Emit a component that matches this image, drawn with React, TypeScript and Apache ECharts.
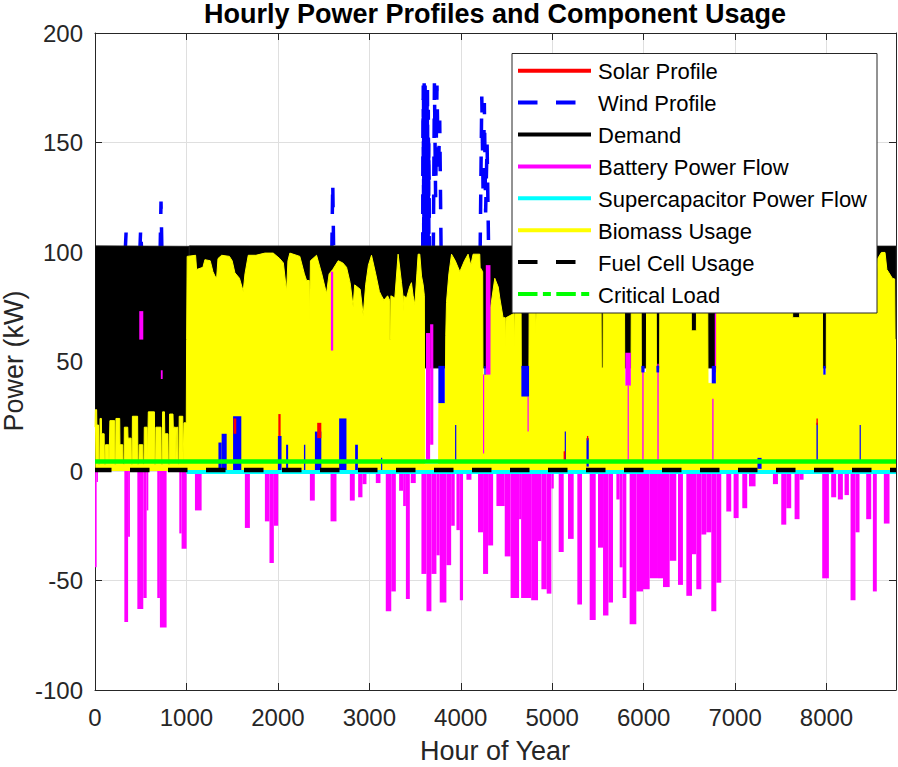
import React, { useEffect, useRef } from "react";
import * as echarts from "echarts";

const FONT = '"Liberation Sans", Arial, Helvetica, sans-serif';
const AXIS_COLOR = "#262626";

// ---- axis settings (values) ----
const hourMax = 8760;
const powerMin = -100;
const powerMax = 200;

// ---- Demand band (dense hourly line shows as a filled band) ----
const demandHours = [0, 1030, 1034, 8760];
const demandLow = [1, 1, 47, 47];
const demandHigh = [102.8, 102.6, 102.8, 102.7];

// ---- Biomass usage upper envelope [hour, kW] ----
const biomass = [
  [0, 20], [4, 28], [18, 28], [20, 21], [38, 21], [41, 3], [52, 3], [55, 24], [70, 24], [72, 17],
  [100, 17], [103, 3], [112, 3], [115, 12], [150, 12], [153, 3], [160, 3], [163, 23], [215, 23],
  [218, 3], [226, 3], [229, 24], [270, 24], [273, 12], [303, 12], [306, 3], [318, 3], [321, 20],
  [358, 20], [361, 15], [395, 15], [398, 3], [406, 3], [409, 25], [466, 25], [469, 3], [480, 3],
  [483, 12], [522, 12], [525, 3], [536, 3], [539, 20], [570, 20], [573, 3], [580, 3], [583, 27],
  [650, 27], [653, 3], [663, 3], [666, 20], [722, 20], [725, 3], [736, 3], [739, 27], [760, 27],
  [763, 17], [798, 17], [801, 3], [812, 3], [815, 26], [853, 26], [856, 20], [880, 20], [883, 3],
  [889, 3], [892, 20], [905, 20], [908, 3], [918, 3], [921, 25], [960, 25], [963, 3], [970, 3],
  [973, 22], [998, 22],
  [1002, 60], [1008, 98], [1100, 98.5], [1111, 92], [1180, 93], [1202, 96.5], [1260, 96], [1290, 91],
  [1312, 89], [1330, 88], [1345, 97], [1385, 98.5], [1470, 98], [1500, 96], [1530, 90.5], [1580, 88],
  [1621, 82], [1640, 90], [1676, 98.5], [1760, 98.5], [1858, 99.5], [1949, 99.5], [2020, 97],
  [2060, 95], [2095, 82], [2110, 96], [2131, 99.5], [2240, 98], [2290, 90], [2314, 87], [2343, 87],
  [2347, 69], [2352, 69], [2356, 96], [2423, 98.5], [2480, 90], [2532, 81], [2560, 90], [2600, 92],
  [2660, 96], [2710, 95], [2751, 93], [2790, 86], [2823, 75], [2840, 85], [2900, 83], [2933, 71],
  [2960, 85], [2990, 94], [3024, 98.5], [3070, 90], [3110, 82], [3133, 80], [3160, 78], [3200, 80],
  [3222, 78], [3224, 60], [3232, 60], [3236, 80], [3279, 79], [3315, 99], [3352, 86], [3368, 80],
  [3370, 73], [3378, 80], [3407, 79], [3440, 84], [3461, 86], [3479, 80], [3498, 76], [3520, 90],
  [3534, 99], [3552, 99], [3571, 89], [3589, 85], [3602, 80], [3606, 3], [3758, 3], [3761, 31],
  [3830, 31], [3836, 62], [3844, 77], [3870, 90], [3899, 99], [3940, 96], [3990, 91], [4040, 96],
  [4080, 99], [4110, 94], [4135, 99], [4208, 99], [4212, 93], [4240, 91], [4243, 44], [4325, 44],
  [4328, 75], [4372, 88], [4410, 84], [4427, 79], [4463, 70], [4486, 70], [4489, 57], [4493, 57],
  [4496, 70], [4584, 72], [4587, 57], [4591, 57], [4594, 72], [4660, 72], [4663, 34], [4745, 34],
  [4748, 74], [4815, 74], [4818, 63], [4824, 63], [4827, 74], [4846, 80], [4900, 92], [5290, 92],
  [5300, 71], [5306, 92], [5533, 92], [5538, 47], [5556, 47], [5560, 92], [5790, 92], [5794, 39],
  [5862, 39], [5866, 92], [5972, 92], [5975, 45], [6030, 45], [6033, 92], [6137, 92], [6140, 45],
  [6175, 45], [6178, 92], [6519, 92], [6522, 64], [6577, 64], [6580, 92], [6700, 92], [6704, 40],
  [6794, 40], [6797, 92], [7627, 92], [7630, 70], [7706, 70], [7709, 92], [7955, 92], [7958, 44],
  [7997, 44], [8000, 92], [8540, 90], [8547, 80], [8560, 97], [8600, 99.8], [8640, 99.8],
  [8660, 92], [8680, 90.7], [8720, 88], [8745, 87.7], [8750, 60], [8760, 60],
];

// ---- Battery power flow: [startHour, endHour, kW] (negative = charging) ----
const batteryFlow = [
  [0, 18, -44], [18, 32, -5], [321, 362, -69], [362, 382, -30], [463, 528, -63], [528, 565, -58],
  [565, 583, -18], [681, 710, -58], [710, 783, -71.5], [922, 947, -28.5], [947, 1002, -35.5],
  [1093, 1166, -18], [1639, 1694, -26], [1858, 1908, -23], [1908, 1956, -42], [1956, 2004, -25],
  [2350, 2404, -13.5], [2576, 2641, -23], [2787, 2841, -13.5], [2878, 2925, -12], [2925, 2969, -6],
  [3071, 3122, -5.5], [3180, 3240, -64], [3240, 3290, -55], [3326, 3370, -9], [3370, 3400, -16],
  [3400, 3443, -58.5], [3453, 3508, -5.5], [3570, 3625, -47], [3625, 3679, -64], [3679, 3734, -47],
  [3734, 3770, -38.5], [3770, 3843, -60], [3843, 3895, -43], [3895, 3934, -25], [3953, 3990, -27],
  [3990, 4025, -59], [4062, 4117, -4], [4189, 4244, -28], [4244, 4299, -47], [4299, 4354, -34],
  [4390, 4481, -16], [4481, 4545, -39], [4545, 4638, -58], [4638, 4660, -22], [4660, 4770, -58],
  [4770, 4845, -59], [4845, 4882, -32], [4882, 4940, -54], [4940, 4991, -56], [4991, 5017, -8],
  [5071, 5126, -37], [5173, 5235, -31], [5275, 5326, -61], [5410, 5476, -68], [5501, 5556, -35],
  [5556, 5615, -66], [5615, 5665, -60], [5702, 5738, -13], [5738, 5770, -44], [5770, 5811, -58],
  [5847, 5920, -70], [5920, 5993, -55], [5993, 6066, -54], [6066, 6157, -49], [6157, 6212, -49],
  [6212, 6285, -53], [6285, 6357, -41], [6376, 6430, -52], [6467, 6529, -57], [6529, 6576, -38],
  [6576, 6631, -54], [6631, 6685, -29], [6685, 6740, -28], [6740, 6795, -64], [6795, 6849, -51],
  [6904, 6958, -18.5], [6984, 7039, -21.5], [7079, 7133, -17], [7152, 7224, -7], [7414, 7469, -6],
  [7505, 7560, -24.5], [7560, 7614, -17], [7651, 7705, -22], [7705, 7749, -4], [7953, 8026, -49],
  [8051, 8106, -12], [8124, 8179, -13], [8197, 8245, -11], [8263, 8317, -59], [8317, 8361, -28],
  [8434, 8489, -22], [8507, 8550, -55], [8627, 8689, -24],
];

// ---- Battery discharge segments visible above the other layers: [h0, h1, lowKW, highKW] ----
const batteryUp = [
  [484, 528, 60, 73], [720, 740, 42, 46], [2580, 2605, 55, 91], [3620, 3665, 5, 63],
  [3665, 3700, 12, 67], [4274, 4325, 44, 94], [4243, 4250, 8, 44], [4730, 4740, 18, 34],
  [5800, 5860, 39, 54], [5825, 5838, 5, 39], [5985, 6000, 5, 46], [6150, 6165, 5, 49],
  [6750, 6765, 5, 33], [6778, 6792, 45, 73],
];

// ---- Wind profile: bursts above demand [hour, kW] ----
const windSpikes = [
  [[330, 100], [340, 109], [350, 100]],
  [[490, 100], [500, 111], [510, 100]],
  [[712, 100], [722, 123], [732, 100]],
  [[2590, 100], [2600, 132], [2610, 100]],
  [[3585, 100], [3590, 176], [3595, 110], [3600, 177], [3605, 105], [3610, 176], [3615, 112],
   [3620, 175], [3625, 105], [3632, 170], [3638, 108], [3645, 165], [3652, 100]],
  [[3588, 100], [3593, 170], [3598, 104], [3603, 176], [3608, 118], [3613, 172], [3618, 104],
   [3624, 168], [3630, 110], [3636, 174], [3642, 106], [3650, 150], [3658, 100]],
  [[3586, 100], [3591, 160], [3597, 101], [3602, 166], [3607, 101], [3612, 163], [3617, 101],
   [3622, 160], [3628, 101], [3634, 158], [3640, 101], [3647, 140], [3655, 100]],
  [[3700, 100], [3712, 177], [3725, 125], [3740, 176], [3755, 135], [3770, 160], [3785, 100]],
  [[4212, 100], [4230, 171], [4245, 125], [4258, 168], [4272, 118], [4288, 150], [4305, 100]],
];
// wind visible through gaps in biomass: [h0, h1, lowKW, highKW]
const windLow = [
  [1350, 1385, 0, 13], [1385, 1440, 0, 17], [1510, 1600, 0, 25], [2000, 2040, 0, 16],
  [2090, 2112, 0, 12], [2285, 2300, 0, 12], [2405, 2475, 0, 18], [2670, 2750, 0, 24],
  [2845, 2875, 0, 12], [3128, 3138, 0, 6], [3755, 3825, 31, 48], [3938, 3948, 5, 21],
  [4258, 4272, 44, 48], [4663, 4747, 34, 48], [5137, 5150, 4, 18], [5375, 5400, 2, 15],
  [5975, 6010, 45, 48], [6140, 6170, 45, 48], [6745, 6790, 40, 48], [7245, 7290, 1, 6],
  [7890, 7905, 5, 22], [7965, 7990, 44, 48], [8362, 8375, 5, 21],
];
// solar visible through gaps: [h0, h1, lowKW, highKW]
const solarBits = [
  [1515, 1545, 17, 24], [2005, 2030, 16, 26], [2430, 2475, 15, 22], [5125, 5145, 5, 9],
  [5380, 5395, 14, 16], [7890, 7905, 21, 24],
];

const supercap = [[1000, -0.4], [8760, -0.4]];
const fuelCell = [[0, 0.4], [8760, 0.4]];
const criticalLoad = [[0, 4.3], [8760, 4.3]];

const legendNames = [
  "Solar Profile", "Wind Profile", "Demand", "Battery Power Flow",
  "Supercapacitor Power Flow", "Biomass Usage", "Fuel Cell Usage", "Critical Load",
];
const legendColors = ["#ff0000", "#0000ff", "#000000", "#ff00ff", "#00ffff", "#ffff00", "#000000", "#00ff00"];
const legendDash = [null, [19.5, 18.5], null, null, null, null, [19.5, 18.5], [19.5, 5.4, 8, 5.4]];

function rectSeries(name: string, rows: number[][], color: string, z: number) {
  return {
    type: "custom",
    name,
    z,
    clip: true,
    data: rows,
    encode: { x: [0, 1], y: [2, 3] },
    renderItem: (params: any, api: any) => {
      const a = api.coord([api.value(0), api.value(3)]);
      const b = api.coord([api.value(1), api.value(2)]);
      return {
        type: "rect",
        shape: { x: a[0], y: a[1], width: Math.max(b[0] - a[0], 1.2), height: b[1] - a[1] },
        style: { fill: color },
      };
    },
  };
}

function buildOption() {
  const series: any[] = [];
  windSpikes.forEach((pts) => {
    series.push({
      type: "line",
      name: "Wind Profile",
      z: 2,
      data: pts,
      showSymbol: false,
      lineStyle: { color: "#0000ff", width: 3.5, type: [19.5, 18.5] },
    });
  });
  series.push({
    type: "custom",
    name: "Demand",
    z: 3,
    clip: true,
    data: demandHours.map((h, i) => [h, demandLow[i], demandHigh[i]]),
    encode: { x: 0, y: [1, 2] },
    renderItem: (params: any, api: any) => {
      const i = params.dataIndex;
      if (i >= demandHours.length - 1) return null;
      const pts = [
        api.coord([demandHours[i], demandLow[i]]),
        api.coord([demandHours[i], demandHigh[i]]),
        api.coord([demandHours[i + 1], demandHigh[i + 1]]),
        api.coord([demandHours[i + 1], demandLow[i + 1]]),
      ];
      return { type: "polygon", shape: { points: pts }, style: { fill: "#000", stroke: "#1a1a1a", lineWidth: 0.8 } };
    },
  });
  series.push({
    type: "line",
    name: "Biomass Usage",
    z: 4,
    data: biomass,
    showSymbol: false,
    lineStyle: { color: "#ffff00", width: 1 },
    areaStyle: { color: "#ffff00", opacity: 1 },
  });
  series.push(rectSeries("Battery Power Flow", batteryFlow.map((r) => [r[0], r[1], r[2], 0]), "#ff00ff", 5));
  series.push(rectSeries("Battery Power Flow", batteryUp, "#ff00ff", 5));
  series.push(rectSeries("Wind Profile", windLow, "#0000ff", 6));
  series.push(rectSeries("Solar Profile", solarBits, "#ff0000", 7));
  series.push({
    type: "line", name: "Supercapacitor Power Flow", z: 8, data: supercap, showSymbol: false,
    lineStyle: { color: "#00ffff", width: 4 },
  });
  series.push({
    type: "line", name: "Fuel Cell Usage", z: 9, data: fuelCell, showSymbol: false,
    lineStyle: { color: "#000000", width: 4.5, type: [19.5, 18.5], dashOffset: 3 },
  });
  series.push({
    type: "line", name: "Critical Load", z: 10, data: criticalLoad, showSymbol: false,
    lineStyle: { color: "#00ff00", width: 4.5 },
  });

  const legendX = 512;
  const legendY = 53.5;
  const rowH = 31.9;
  const legendChildren: any[] = [
    {
      type: "rect",
      z: 100,
      shape: { x: legendX, y: legendY, width: 365, height: 259.5 },
      style: { fill: "#ffffff", stroke: AXIS_COLOR, lineWidth: 1 },
    },
  ];
  legendNames.forEach((name, i) => {
    const cy = 70.7 + i * rowH;
    legendChildren.push({
      type: "line",
      z: 101,
      shape: { x1: 518, y1: cy, x2: 591, y2: cy },
      style: { stroke: legendColors[i], lineWidth: 4, lineDash: legendDash[i] || null },
    });
    legendChildren.push({
      type: "text",
      z: 101,
      style: {
        text: name, x: 598, y: cy + 1, font: `22px ${FONT}`, fill: "#000000",
        textAlign: "left", textVerticalAlign: "middle",
      },
    });
  });

  const axisCommon = {
    type: "value",
    axisLine: { show: true, onZero: false, lineStyle: { color: AXIS_COLOR, width: 1 } },
    axisTick: { show: true, inside: true, length: 7, lineStyle: { color: AXIS_COLOR, width: 1 } },
  };

  return {
    animation: false,
    backgroundColor: "#ffffff",
    grid: { left: 95, top: 33, width: 801, height: 657, containLabel: false },
    xAxis: [
      {
        ...axisCommon, position: "bottom", min: 0, max: hourMax, interval: 1000,
        axisLabel: {
          show: true, showMaxLabel: false, margin: 15, color: AXIS_COLOR, fontSize: 24, fontFamily: FONT,
          formatter: (v: number) => String(v),
        },
        splitLine: { show: true, lineStyle: { color: "#dfdfdf", width: 1 } },
      },
      {
        ...axisCommon, position: "top", min: 0, max: hourMax, interval: 1000,
        axisLabel: { show: false },
        splitLine: { show: false },
      },
    ],
    yAxis: [
      {
        ...axisCommon, position: "left", min: powerMin, max: powerMax, interval: 50,
        axisLabel: { show: true, margin: 12, color: AXIS_COLOR, fontSize: 24, fontFamily: FONT },
        splitLine: { show: true, lineStyle: { color: "#dfdfdf", width: 1 } },
      },
      {
        ...axisCommon, position: "right", min: powerMin, max: powerMax, interval: 50,
        axisLabel: { show: false },
        splitLine: { show: false },
      },
    ],
    series,
    graphic: [
      {
        type: "text", z: 100,
        style: {
          text: "Hourly Power Profiles and Component Usage", x: 495, y: 14,
          font: `bold 27px ${FONT}`, fill: "#000000", textAlign: "center", textVerticalAlign: "middle",
        },
      },
      {
        type: "text", z: 100,
        style: {
          text: "Hour of Year", x: 495, y: 751,
          font: `27px ${FONT}`, fill: AXIS_COLOR, textAlign: "center", textVerticalAlign: "middle",
        },
      },
      {
        type: "text", z: 100, x: 14, y: 361, rotation: Math.PI / 2,
        style: {
          text: "Power (kW)", x: 0, y: 0,
          font: `27px ${FONT}`, fill: AXIS_COLOR, textAlign: "center", textVerticalAlign: "middle",
        },
      },
      ...legendChildren,
    ],
  };
}

export default function App() {
  const ref = useRef<HTMLDivElement>(null);
  useEffect(() => {
    if (!ref.current) return;
    const chart = echarts.init(ref.current, null, { renderer: "svg" });
    chart.setOption(buildOption() as any);
    return () => chart.dispose();
  }, []);
  return (
    <div
      ref={ref}
      style={{ position: "fixed", left: 0, top: 0, width: 898, height: 767, background: "#fff" }}
    />
  );
}
